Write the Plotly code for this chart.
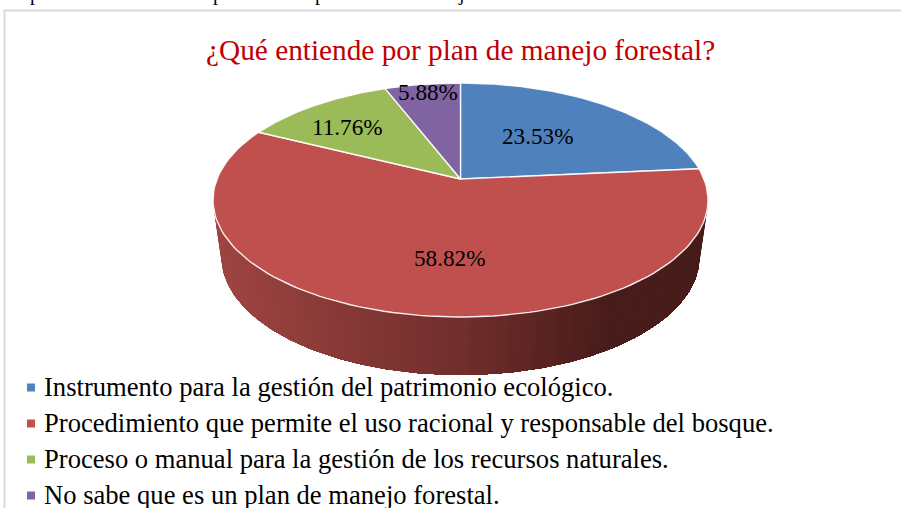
import numpy as np
import plotly.graph_objects as go

title = "¿Qué entiende por plan de manejo forestal?"
categories = [
    "Instrumento para la gestión del patrimonio ecológico.",
    "Procedimiento que permite el uso racional y responsable del bosque.",
    "Proceso o manual para la gestión de los recursos naturales.",
    "No sabe que es un plan de manejo forestal.",
]
values = [23.53, 58.82, 11.76, 5.88]
colors = ["#4F81BD", "#C0504D", "#9BBB59", "#8064A2"]
# the descenders of the line of page text cropped off above the chart
cropped_glyphs = ["p", "p", "p", "j"]

W, H = 901, 508
FONT = "Liberation Serif"
cx, cy = 460.5, 179.0
a, b, k = 243.5, 113.2, 0.1795


def project(theta):
    X, Y = np.sin(theta), np.cos(theta)
    w = 1 + k * Y
    return cx + a * X / w, cy - b * Y / w


fig = go.Figure()

# side wall (bottom ellipse is the top rim moved down and slightly narrowed)
wall_top = np.array([0x9F, 0x45, 0x42])
wall_mid = np.array([0x70, 0x2E, 0x2C])
wall_end = np.array([0x48, 0x1C, 0x1A])


def wall_color(f):
    if f < 0.5:
        c = wall_top + (wall_mid - wall_top) * f / 0.5
    else:
        c = wall_mid + (wall_end - wall_mid) * min(1, (f - 0.5) / 0.3)
    return "rgb(%d,%d,%d)" % tuple(c)


ex, ey, erx, ery = 460.5, 200.0, 247.5, 117.0
bx, by, brx, bry = 460.5, 257.0, 239.0, 118.0
edges = np.linspace(np.pi, 2 * np.pi, 121)
ends = np.linspace(np.pi, 2 * np.pi, 181)
for t0 in edges[:-1]:
    ts = ends[ends >= t0]
    top_x = ex + erx * np.cos(ts)
    top_y = ey - ery * np.sin(ts)
    bot_x = bx + brx * np.cos(ts)
    bot_y = by - bry * np.sin(ts)
    xs = list(top_x) + list(bot_x[::-1])
    ys = list(top_y) + list(bot_y[::-1])
    f = (np.cos(t0) + 1) / 2
    fig.add_trace(go.Scatter(x=xs, y=ys, mode="lines", fill="toself",
                             fillcolor=wall_color(f), line=dict(width=0),
                             hoverinfo="skip", showlegend=False))

# top face
total = sum(values)
start = 0.0
label_pos = [(537.5, 136), (450, 258), (347.5, 127), (428, 92)]
for name, v, c in zip(categories, values, colors):
    t = np.linspace(start, start + v / total, 120) * 2 * np.pi
    px, py = project(t)
    fig.add_trace(go.Scatter(x=[cx, *px, cx], y=[cy, *py, cy], mode="lines",
                             fill="toself", fillcolor=c,
                             line=dict(color="rgba(255,255,255,0.9)", width=1.4),
                             name=name, hoverinfo="name", showlegend=False))
    start += v / total

shapes = [dict(type="rect", x0=4.5, y0=10.5, x1=W + 20, y1=H + 20, xref="x", yref="y",
               line=dict(color="#D9D9D9", width=2), fillcolor="rgba(0,0,0,0)", layer="below")]

annotations = [dict(x=460, y=49.5, text=title, showarrow=False, xanchor="center", yanchor="middle",
                    font=dict(family=FONT, size=29.3, color="#C00000"))]
for (lx, ly), v in zip(label_pos, values):
    annotations.append(dict(x=lx, y=ly, text=f"{v:.2f}%", showarrow=False,
                            font=dict(family=FONT, size=23.2, color="#000000")))

# legend
legend_y = [387, 423, 459, 495]
for ly, name, c in zip(legend_y, categories, colors):
    fig.add_trace(go.Scatter(x=[31], y=[ly + 0.5], mode="markers",
                             marker=dict(symbol="square", size=8, color=c),
                             hoverinfo="skip", showlegend=False))
    annotations.append(dict(x=42, y=ly, text=name, showarrow=False, xanchor="left",
                            font=dict(family=FONT, size=26.6, color="#000000")))

# cropped page line above the chart: only the descenders remain in frame
for gx, glyph in zip([35, 218, 320, 461], cropped_glyphs):
    annotations.append(dict(x=gx, xref="x", y=1 + 7 / H, yref="paper", text=glyph,
                            showarrow=False, yanchor="middle", xanchor="center",
                            font=dict(family=FONT, size=20, color="#000000")))

fig.update_layout(
    width=W, height=H, margin=dict(l=0, r=0, t=0, b=0),
    paper_bgcolor="white", plot_bgcolor="white",
    xaxis=dict(range=[0, W], visible=False, fixedrange=True),
    yaxis=dict(range=[H, 0], visible=False, fixedrange=True),
    shapes=shapes, annotations=annotations, showlegend=False,
)
fig.write_html("out.html", config=dict(displayModeBar=False),
               post_script="document.body.style.margin='0';document.body.style.overflow='hidden';")
